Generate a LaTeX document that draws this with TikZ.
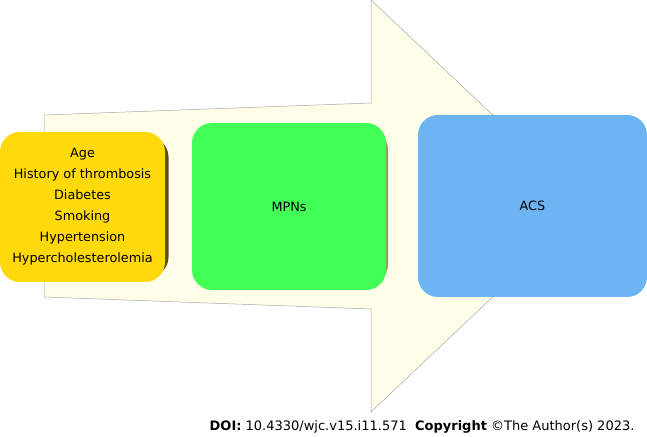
\documentclass[tikz,border=0pt]{standalone}
\usepackage{fontspec}
\setmainfont{DejaVu Sans}
\usetikzlibrary{positioning}

\definecolor{riskyellow}{HTML}{FFD90A}
\definecolor{mpngreen}{HTML}{42FF55}
\definecolor{acsblue}{HTML}{6DB4F2}
\definecolor{arrowcream}{HTML}{FFFFE9}
\definecolor{shadowbrown}{HTML}{5A4A1E}

\begin{document}
\begin{tikzpicture}[
    x=1pt, y=1pt,
    % Text in all boxes
    every node/.style={
        align=center,
        font=\fontsize{12.8}{21}\selectfont
    },
    % Rounded boxes along the arrow
    stage/.style={
        rounded corners=20pt,
        inner sep=0pt
    },
    stage shadow/.style={
        stage,
        fill=shadowbrown
    }
]
    \useasboundingbox (0,0) rectangle (647,436);

    % Big background arrow
    \draw[gray!70, fill=arrowcream, line width=0.5pt]
        (44,321) -- (371,333) -- (371,436) -- (589,230)
        -- (371,24) -- (371,127) -- (44,139) -- cycle;

    % Shadows behind the first two boxes
    \node[stage shadow, minimum width=165pt, minimum height=140pt] (riskshadow) at (86,229) {};
    \node[stage shadow, fill=shadowbrown!60, minimum width=194pt, minimum height=155pt] (mpnshadow) at (291,229) {};

    % Stages
    \node[stage, fill=riskyellow, minimum width=165pt, minimum height=150pt] (risk) at (82.5,229)
        {Age\\History of thrombosis\\Diabetes\\Smoking\\Hypertension\\Hypercholesterolemia};
    \node[stage, fill=mpngreen, minimum width=194pt, minimum height=167pt] (mpn) at (289,229.5) {MPNs};
    \node[stage, fill=acsblue, minimum width=229pt, minimum height=182pt] (acs) at (532.5,230) {ACS};

    % Source line
    \node[anchor=east, font=\fontsize{13}{14}\selectfont] (doi) at (638,9)
        {\textbf{DOI:} 10.4330/wjc.v15.i11.571\ \ \textbf{Copyright} ©The Author(s) 2023.};
\end{tikzpicture}
\end{document}
